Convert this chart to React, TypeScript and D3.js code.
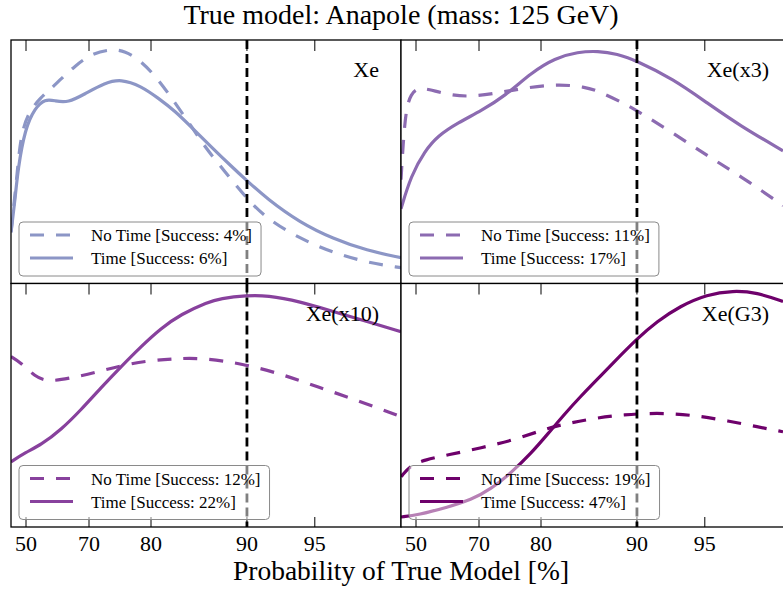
import React, { useEffect, useRef } from "react";
import * as d3 from "d3";

const W = 783;
const H = 589;
const FONT = "'Liberation Serif', 'Times New Roman', serif";

// x-axis: tick labels (probability of true model, %) and their position along the panel axis (0–100)
const tickLabels = [50, 70, 80, 90, 95];
const tickPositions = [3.85, 20.0, 35.9, 60.5, 77.9];
const thresholdProb = 90;

const panelNames = ["Xe", "Xe(x3)", "Xe(x10)", "Xe(G3)"];
const panelColors = ["#8c96c6", "#8c6bb1", "#88419d", "#6e016b"];
const successNoTime = [4, 11, 12, 19];
const successTime = [6, 17, 22, 47];

type P = [number, number];

const xeNoTime: P[] = [
  [0, 21.3], [1.03, 36.5], [1.79, 48.8], [2.56, 60.7], [4.36, 70.1], [7.69, 76.5], [10.26, 80.0],
  [12.82, 84.0], [16.41, 89.3], [20.51, 94.3], [25.64, 96.3], [29.23, 95.5], [33.33, 91.4],
  [37.69, 84.0], [42.05, 74.2], [46.15, 64.8], [49.74, 56.1], [53.59, 48.4], [56.15, 43.4],
  [60.51, 34.8], [65.64, 26.6], [74.1, 18.4], [82.56, 12.7], [91.28, 8.6], [100, 6.5],
];
const xeTime: P[] = [
  [0, 20.9], [1.03, 34.4], [1.79, 47.1], [3.59, 63.5], [6.15, 72.1], [8.72, 75.8], [11.28, 75.0],
  [14.62, 74.2], [18.97, 77.9], [24.1, 82.4], [28.21, 84.0], [33.33, 81.1], [37.69, 76.2],
  [42.05, 70.9], [47.18, 62.7], [50.51, 57.4], [56.92, 47.5], [60.51, 42.2], [65.64, 34.8],
  [74.1, 25.0], [82.56, 18.4], [91.28, 13.5], [100, 10.6],
];
const x3NoTime: P[] = [
  [0, 42.6], [0.51, 56.6], [1.28, 71.7], [2.56, 77.9], [4.36, 80.3], [6.92, 79.9], [12.05, 77.5],
  [17.95, 76.6], [24.87, 78.3], [31.79, 80.3], [40.26, 82.0], [47.18, 80.7], [50.51, 79.1],
  [56.92, 74.2], [60.51, 70.9], [69.74, 61.9], [78.46, 52.5], [86.92, 44.3], [97.95, 32.0],
];
const x3Time: P[] = [
  [0, 30.7], [2.56, 44.3], [6.15, 54.5], [9.49, 60.7], [14.62, 66.0], [20.51, 70.9], [26.67, 77.0],
  [33.33, 86.5], [39.49, 92.6], [45.38, 95.1], [50.51, 95.5], [55.38, 94.3], [60.51, 91.4],
  [69.74, 84.0], [78.46, 74.2], [86.92, 64.8], [97.95, 54.5],
];
const x10NoTime: P[] = [
  [0, 70.0], [2.56, 67.5], [6.15, 61.7], [9.49, 59.7], [14.62, 60.9], [21.54, 63.4], [28.21, 66.3],
  [35.13, 68.3], [42.05, 69.1], [48.46, 69.5], [59.49, 67.1], [69.74, 62.6], [78.46, 57.6],
  [86.92, 53.1], [100, 45.3],
];
const x10Time: P[] = [
  [0, 26.7], [3.59, 30.5], [7.69, 33.7], [12.82, 39.9], [17.95, 48.1], [23.08, 57.2], [28.21, 65.8],
  [33.33, 74.1], [38.46, 81.6], [43.59, 87.4], [50.51, 92.4], [53.59, 93.8], [60.51, 95.1],
  [65.64, 95.1], [74.1, 92.6], [82.56, 88.5], [91.28, 84.4], [100, 80.2],
];
const g3NoTime: P[] = [
  [0, 20.6], [2.56, 25.5], [6.15, 27.6], [12.05, 29.6], [20.51, 32.5], [29.23, 35.8], [37.69, 40.7],
  [43.59, 42.8], [50.51, 44.9], [56.92, 46.1], [65.64, 46.9], [74.1, 46.1], [82.56, 44.0],
  [91.28, 41.2], [97.95, 39.1],
];
const g3Time: P[] = [
  [0, 4.1], [4.36, 4.9], [12.05, 8.2], [17.95, 11.1], [23.08, 15.6], [28.21, 22.2], [33.33, 30.2],
  [37.69, 38.3], [42.05, 46.6], [46.15, 53.8], [50.51, 61.0], [54.36, 67.3], [60.51, 77.3],
  [65.64, 84.4], [71.54, 90.7], [78.46, 95.5], [85.13, 97.1], [91.28, 96.3], [97.95, 92.6],
];

const noTimeSeries = [xeNoTime, x3NoTime, x10NoTime, g3NoTime];
const timeSeries = [xeTime, x3Time, x10Time, g3Time];

export default function App() {
  const ref = useRef<SVGSVGElement | null>(null);

  useEffect(() => {
    document.body.style.margin = "0";
    const svg = d3.select(ref.current);
    svg.selectAll("*").remove();

    const left = 11;
    const top = 40;
    const pw = 390;
    const ph = 243.5;

    // probability -> axis position
    const probToPos = d3.scaleLinear().domain(tickLabels).range(tickPositions);

    svg.append("rect").attr("width", W).attr("height", H).attr("fill", "white");

    svg
      .append("text")
      .attr("x", left + pw)
      .attr("y", 24)
      .attr("text-anchor", "middle")
      .attr("font-family", FONT)
      .attr("font-size", 28)
      .text("True model: Anapole (mass: 125 GeV)");

    svg
      .append("text")
      .attr("x", left + pw)
      .attr("y", 580)
      .attr("text-anchor", "middle")
      .attr("font-family", FONT)
      .attr("font-size", 27.5)
      .text("Probability of True Model [%]");

    const defs = svg.append("defs");

    panelNames.forEach((name, i) => {
      const col = i % 2;
      const row = Math.floor(i / 2);
      const px = left + col * pw;
      const py = top + row * ph;
      const color = panelColors[i];

      const x = d3.scaleLinear().domain([0, 100]).range([px, px + pw]);
      const y = d3.scaleLinear().domain([0, 100]).range([py + ph, py]);

      const clipId = `clip${i}`;
      defs
        .append("clipPath")
        .attr("id", clipId)
        .append("rect")
        .attr("x", px)
        .attr("y", py)
        .attr("width", pw)
        .attr("height", ph);

      const g = svg.append("g");
      g.append("rect")
        .attr("x", px)
        .attr("y", py)
        .attr("width", pw)
        .attr("height", ph)
        .attr("fill", "white");

      const plot = g.append("g").attr("clip-path", `url(#${clipId})`);
      const line = d3
        .line<P>()
        .x((d) => x(d[0]))
        .y((d) => y(d[1]))
        .curve(d3.curveBasis);

      plot
        .append("path")
        .attr("d", line(noTimeSeries[i]) || "")
        .attr("fill", "none")
        .attr("stroke", color)
        .attr("stroke-width", 3.2)
        .attr("stroke-dasharray", "14,12");
      plot
        .append("path")
        .attr("d", line(timeSeries[i]) || "")
        .attr("fill", "none")
        .attr("stroke", color)
        .attr("stroke-width", 3.2);

      // threshold line
      const tx = x(probToPos(thresholdProb));
      plot
        .append("line")
        .attr("x1", tx)
        .attr("x2", tx)
        .attr("y1", py)
        .attr("y2", py + ph)
        .attr("stroke", "black")
        .attr("stroke-width", 2.8)
        .attr("stroke-dasharray", "9,5");

      // ticks
      tickLabels.forEach((lab, k) => {
        const xx = x(tickPositions[k]);
        g.append("line")
          .attr("x1", xx)
          .attr("x2", xx)
          .attr("y1", py)
          .attr("y2", py + 11)
          .attr("stroke", "black")
          .attr("stroke-width", 1);
        if (row === 1) {
          g.append("line")
            .attr("x1", xx)
            .attr("x2", xx)
            .attr("y1", py + ph)
            .attr("y2", py + ph - 10)
            .attr("stroke", "black")
            .attr("stroke-width", 1);
          g.append("text")
            .attr("x", xx)
            .attr("y", py + ph + 24)
            .attr("text-anchor", "middle")
            .attr("font-family", FONT)
            .attr("font-size", 22)
            .text(String(lab));
        }
      });

      // legend
      const lg = g.append("g");
      const lx = px + 8;
      const ly = py + 182;
      const box = lg
        .append("rect")
        .attr("x", lx)
        .attr("y", ly)
        .attr("height", 54)
        .attr("rx", 4)
        .attr("fill", "white")
        .attr("fill-opacity", 0.5)
        .attr("stroke", "#8a8a8a")
        .attr("stroke-width", 1);
      const rows = [
        { label: `No Time [Success: ${successNoTime[i]}%]`, dash: "14,12" },
        { label: `Time [Success: ${successTime[i]}%]`, dash: null as string | null },
      ];
      let maxW = 0;
      rows.forEach((r, k) => {
        const ry = ly + 13 + k * 23;
        const ln = lg
          .append("line")
          .attr("x1", lx + 11)
          .attr("x2", lx + 54)
          .attr("y1", ry)
          .attr("y2", ry)
          .attr("stroke", color)
          .attr("stroke-width", 3.2);
        if (r.dash) ln.attr("stroke-dasharray", r.dash);
        const t = lg
          .append("text")
          .attr("x", lx + 72)
          .attr("y", ry + 6)
          .attr("font-family", FONT)
          .attr("font-size", 17)
          .text(r.label);
        const node = t.node() as SVGTextElement;
        maxW = Math.max(maxW, node.getComputedTextLength());
      });
      box.attr("width", 72 + maxW + 9);

      // panel label
      g.append("text")
        .attr("x", px + pw - 22)
        .attr("y", py + 37)
        .attr("text-anchor", "end")
        .attr("font-family", FONT)
        .attr("font-size", 22)
        .text(name);

      // border
      g.append("rect")
        .attr("x", px)
        .attr("y", py)
        .attr("width", pw)
        .attr("height", ph)
        .attr("fill", "none")
        .attr("stroke", "black")
        .attr("stroke-width", 1.3);
    });
  }, []);

  return <svg ref={ref} width={W} height={H} style={{ display: "block" }} />;
}
